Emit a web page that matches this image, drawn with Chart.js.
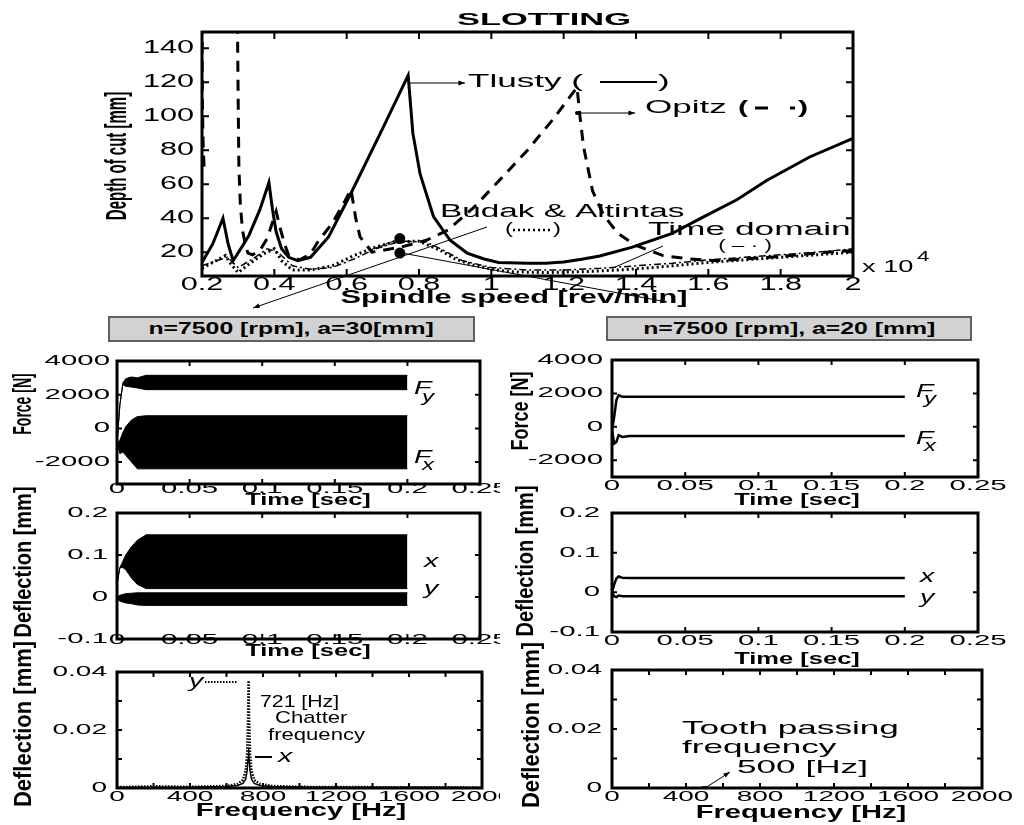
<!DOCTYPE html>
<html>
<head>
<meta charset="utf-8">
<title>Slotting stability</title>
<script src="https://cdn.jsdelivr.net/npm/chart.js@4.4.1/dist/chart.umd.min.js"></script>
<style>
  html, body { margin: 0; padding: 0; background: #fff; }
  #fig { position: relative; width: 1024px; height: 825px; overflow: hidden; background: #fff; }
  #fig canvas { position: absolute; }
  .case {
    position: absolute; box-sizing: border-box;
    background: #d2d2d2; border: 2px solid #606060;
    display: flex; align-items: center; justify-content: center;
    font: bold 16px "Liberation Sans", Arial, sans-serif; color: #000;
  }
  .case span { display: inline-block; transform: scaleX(1.55); white-space: nowrap; }
</style>
</head>
<body>
<div id="fig">
  <div class="case" style="left:108px;top:316px;width:367px;height:26px"><span>n=7500 [rpm], a=30[mm]</span></div>
  <div class="case" style="left:606px;top:316px;width:366px;height:25px"><span>n=7500 [rpm], a=20 [mm]</span></div>
</div>
<script>
// ---- stability lobes: spindle speed in 10^4 rev/min, depth of cut in mm ----
const tlustySpeed = [0.2, 0.23, 0.258, 0.272, 0.286, 0.31, 0.33, 0.36, 0.385, 0.395, 0.405, 0.42, 0.44, 0.465, 0.5, 0.55, 0.615, 0.7, 0.77, 0.783, 0.803, 0.84, 0.886, 0.933, 0.98, 1.02, 1.1, 1.15, 1.2, 1.25, 1.3, 1.39, 1.5, 1.58, 1.68, 1.76, 1.88, 2.0];
const tlustyDepth = [14, 25, 40, 25, 15, 23, 30, 45, 61, 45, 32, 22, 17, 15, 17, 29, 56, 93, 124, 90, 66, 41, 27, 19.5, 16, 14, 13.5, 13.5, 14.3, 15.8, 17.8, 23, 31, 40, 51, 62, 76, 87];

const opitzEdgeSpeed = [0.2, 0.201, 0.203, 0.206];
const opitzEdgeDepth = [155, 110, 85, 68];
const opitzSpeed = [0.298, 0.3, 0.302, 0.306, 0.312, 0.32, 0.327, 0.34, 0.36, 0.38, 0.405, 0.415, 0.428, 0.44, 0.47, 0.5, 0.52, 0.56, 0.595, 0.612, 0.625, 0.637, 0.67, 0.75, 0.82, 0.88, 0.95, 1.03, 1.1, 1.17, 1.237, 1.245, 1.255, 1.28, 1.31, 1.35, 1.4, 1.475, 1.55, 1.62, 1.7, 1.8, 1.9, 2.0];
const opitzDepth = [155, 110, 70, 48, 33, 24, 19.5, 18.5, 21, 28, 44, 35, 25, 18, 15.5, 19, 26, 37, 50, 57, 40, 29, 20, 23, 27, 33, 46, 64, 80, 98, 117, 100, 82, 56, 42, 31, 24, 18, 16, 15, 16, 17.5, 19.5, 21];

const budakSpeed = [0.2, 0.23, 0.265, 0.28, 0.3, 0.33, 0.37, 0.4, 0.42, 0.45, 0.5, 0.56, 0.62, 0.68, 0.73, 0.8, 0.86, 0.9, 0.95, 1.0, 1.05, 1.15, 1.25, 1.35, 1.45, 1.6, 1.7, 1.8, 1.9, 2.0];
const budakDepth = [10.5, 14, 18, 13, 8, 13, 19, 22, 15, 9.5, 9.5, 12, 18, 23, 26, 26.5, 21, 16, 12.5, 10, 8.5, 8, 8.5, 9.5, 11, 14, 15.5, 17, 18.5, 20];

const timeDomSpeed = [0.2, 0.24, 0.27, 0.3, 0.34, 0.38, 0.41, 0.45, 0.5, 0.56, 0.62, 0.68, 0.75, 0.82, 0.86, 0.92, 1.0, 1.1, 1.2, 1.3, 1.4, 1.5, 1.6, 1.7, 1.8, 1.9, 2.0];
const timeDomDepth = [12, 15, 17, 11, 16, 22, 20, 12, 10, 11, 16, 22, 26.5, 26, 22, 15, 11, 9.5, 9.5, 10.5, 12, 13.5, 15.5, 17, 18.5, 20, 22];

const markerSpeed = [0.747, 0.747];
const markerDepth = [28, 19.5];

// ---- time histories (sec); chatter case drawn as oscillation envelopes ----
const chatterTime = [0, 0.002, 0.004, 0.006, 0.01, 0.014, 0.02, 0.2];
const fyChatterHigh = [-900, 1400, 2700, 2950, 3050, 3000, 3150, 3150];
const fyChatterLow = [-900, 1400, 2600, 2500, 2450, 2400, 2300, 2300];
const fxChatterHigh = [-900, -700, -250, 100, 500, 700, 750, 750];
const fxChatterLow = [-900, -1500, -1400, -1600, -2000, -2400, -2400, -2400];
const xDefHigh = [0.03, 0.07, 0.085, 0.1, 0.12, 0.135, 0.148, 0.148];
const xDefLow = [0.03, 0.07, 0.07, 0.065, 0.045, 0.03, 0.02, 0.02];
const yDefHigh = [0.0, 0.004, 0.006, 0.008, 0.009, 0.01, 0.01, 0.01];
const yDefLow = [-0.004, -0.01, -0.012, -0.014, -0.016, -0.019, -0.02, -0.02];

const stableTime = [0, 0.0015, 0.003, 0.0045, 0.007, 0.012, 0.2];
const fyStable = [-200, 600, 1600, 1900, 1800, 1800, 1800];
const fxStable = [-200, -1000, -900, -500, -600, -550, -550];
const xDefStable = [0, 0.02, 0.035, 0.04, 0.037, 0.036, 0.036];
const yDefStable = [0, -0.01, -0.012, -0.008, -0.01, -0.01, -0.01];

// ---- deflection spectra (Hz, mm) ----
const freqHz = [0, 200, 400, 600, 660, 690, 705, 713, 718, 721, 724, 729, 737, 752, 782, 850, 1000, 1400, 2000];
const ySpectrum = [0.0003, 0.0006, 0.0004, 0.0007, 0.0014, 0.0028, 0.006, 0.012, 0.024, 0.037, 0.024, 0.012, 0.006, 0.0028, 0.0014, 0.0007, 0.0004, 0.0003, 0.0002];
const xSpectrum = [0.0002, 0.0003, 0.0003, 0.0005, 0.0009, 0.0016, 0.003, 0.006, 0.010, 0.014, 0.010, 0.006, 0.003, 0.0016, 0.0009, 0.0005, 0.0003, 0.0002, 0.0001];
const stableFreqHz = [0, 480, 500, 520, 2000];
const stableSpectrum = [0.0001, 0.0002, 0.0004, 0.0002, 0.0001];

// ---- axis ticks ----
const speedTicks = [0.2, 0.4, 0.6, 0.8, 1, 1.2, 1.4, 1.6, 1.8, 2];
const depthTicks = [20, 40, 60, 80, 100, 120, 140];
const timeTicks = [0, 0.05, 0.1, 0.15, 0.2, 0.25];
const forceTicks = [-2000, 0, 2000, 4000];
const deflTicks = [-0.1, 0, 0.1, 0.2];
const freqTicks = [0, 400, 800, 1200, 1600, 2000];
const freqMinor = [200, 600, 1000, 1400, 1800];
const specTicks = [0, 0.02, 0.04];
const specMinor = [0.01, 0.03];

const FONT = '"Liberation Sans", Arial, sans-serif';
const fig = document.getElementById('fig');

function drawText(ctx, s, x, y, o) {
  ctx.save();
  ctx.font = (o.italic ? 'italic ' : '') + (o.bold ? 'bold ' : '') + o.size + 'px ' + FONT;
  ctx.fillStyle = '#000';
  ctx.textAlign = o.align || 'center';
  ctx.textBaseline = 'middle';
  ctx.translate(x, y);
  if (o.vertical) { ctx.rotate(-Math.PI / 2); ctx.scale(1, o.sx || 1); }
  else ctx.scale(o.sx || 1, 1);
  ctx.fillText(s, 0, 0);
  ctx.restore();
}

function drawStroke(ctx, st, ox, oy) {
  const p = st.pts.map(([x, y]) => [x - ox, y - oy]);
  ctx.save();
  ctx.strokeStyle = '#000';
  ctx.fillStyle = '#000';
  ctx.lineWidth = st.width || 1;
  ctx.setLineDash(st.dash || []);
  ctx.beginPath();
  ctx.moveTo(p[0][0], p[0][1]);
  for (let i = 1; i < p.length; i++) ctx.lineTo(p[i][0], p[i][1]);
  ctx.stroke();
  ctx.setLineDash([]);
  if (st.dot) {
    ctx.beginPath();
    ctx.arc(p[0][0], p[0][1], 2, 0, Math.PI * 2);
    ctx.fill();
  }
  if (st.arrow) {
    const [x0, y0] = p[p.length - 2], [x1, y1] = p[p.length - 1];
    const ang = Math.atan2(y1 - y0, x1 - x0), s = 7;
    ctx.beginPath();
    ctx.moveTo(x1, y1);
    ctx.lineTo(x1 - s * Math.cos(ang - 0.35), y1 - s * Math.sin(ang - 0.35));
    ctx.lineTo(x1 - s * Math.cos(ang + 0.35), y1 - s * Math.sin(ang + 0.35));
    ctx.closePath();
    ctx.fill();
  }
  ctx.restore();
}

// Boxed axes with inward ticks on all four sides, labels and notes
function framePlugin(p) {
  return {
    id: 'frame',
    afterDatasetsDraw(chart) {
      const { ctx, chartArea: a, scales: { x, y } } = chart;
      const [ox, oy] = p.canvas;
      const tl = p.tickLen;
      ctx.save();
      ctx.strokeStyle = '#000';
      ctx.lineWidth = 2;
      ctx.beginPath();
      p.xTicks.concat(p.xMinor || []).forEach(v => {
        const px = x.getPixelForValue(v);
        ctx.moveTo(px, a.bottom); ctx.lineTo(px, a.bottom - tl);
        ctx.moveTo(px, a.top); ctx.lineTo(px, a.top + tl);
      });
      p.yTicks.concat(p.yMinor || []).forEach(v => {
        const py = y.getPixelForValue(v);
        ctx.moveTo(a.left, py); ctx.lineTo(a.left + tl, py);
        ctx.moveTo(a.right, py); ctx.lineTo(a.right - tl, py);
      });
      ctx.stroke();
      ctx.lineWidth = p.frameWidth;
      ctx.strokeRect(a.left, a.top, a.right - a.left, a.bottom - a.top);
      ctx.restore();

      const tf = { size: p.tickSize, sx: p.tickSx };
      p.xTicks.forEach(v => drawText(ctx, String(v), x.getPixelForValue(v), p.xLabelY - oy, tf));
      p.yTicks.forEach(v => drawText(ctx, String(v), p.yLabelRight - ox, y.getPixelForValue(v), Object.assign({ align: 'right' }, tf)));
      (p.texts || []).forEach(t => drawText(ctx, t.text, t.x - ox, t.y - oy, t));
      (p.strokes || []).forEach(s => drawStroke(ctx, s, ox, oy));
    }
  };
}

const pts = (xs, ys) => xs.map((v, i) => ({ x: v, y: ys[i] }));
const series = (xs, ys, extra) => Object.assign({
  data: pts(xs, ys), borderColor: '#000', backgroundColor: '#000',
  borderWidth: 2, pointRadius: 0, fill: false
}, extra);
const band = (xs, hi, lo) => [
  series(xs, hi, { borderWidth: 1 }),
  series(xs, lo, { borderWidth: 1, fill: '-1' })
];

function panel(p, datasets) {
  const [cx, cy, cw, ch] = p.canvas;
  const [l, t, r, b] = p.area;
  const canvas = document.createElement('canvas');
  canvas.width = cw;
  canvas.height = ch;
  canvas.style.left = cx + 'px';
  canvas.style.top = cy + 'px';
  fig.appendChild(canvas);
  new Chart(canvas, {
    type: 'line',
    data: { datasets },
    options: {
      responsive: false,
      animation: false,
      devicePixelRatio: 1,
      layout: { padding: { left: l - cx, top: t - cy, right: cx + cw - r, bottom: cy + ch - b } },
      plugins: { legend: { display: false }, tooltip: { enabled: false } },
      elements: { line: { tension: 0 } },
      scales: {
        x: { type: 'linear', display: false, min: p.xRange[0], max: p.xRange[1] },
        y: { type: 'linear', display: false, min: p.yRange[0], max: p.yRange[1] }
      }
    },
    plugins: [framePlugin(p)]
  });
}

const note = (text, x, y, size, sx, more) => Object.assign({ text, x, y, size, sx }, more);
const left = { align: 'left' };
const ital = { align: 'left', italic: true };

// Stability lobe diagram
panel({
  canvas: [0, 0, 1024, 315], area: [202, 32, 853, 276],
  xRange: [0.2, 2], yRange: [6, 149.5],
  xTicks: speedTicks, yTicks: depthTicks,
  tickLen: 7, frameWidth: 3, tickSize: 18, tickSx: 1.7,
  xLabelY: 285, yLabelRight: 194,
  texts: [
    note('SLOTTING', 544, 21, 16, 2.15, { bold: true }),
    note('Spindle speed [rev/min]', 514, 298, 18, 1.71, { bold: true }),
    note('Depth of cut [mm]', 118, 156, 15, 2.0, { bold: true, vertical: true }),
    note('Tlusty (', 468, 82, 18, 1.95, left),
    note(')', 658, 82, 18, 1.95, left),
    note('Opitz', 645, 108, 18, 1.95, left),
    note('(', 738, 108, 19, 1.6, { align: 'left', bold: true }),
    note(')', 798, 108, 19, 1.6, { align: 'left', bold: true }),
    note('Budak & Altintas', 440, 212, 18, 1.85, left),
    note('(', 505, 230, 16, 1.5, left),
    note(')', 553, 230, 16, 1.5, left),
    note('Time domain', 648, 230, 18, 1.96, left),
    note('( \u2013 \u00b7 )', 745, 246, 15, 1.5),
    note('x 10', 862, 268, 16, 1.7, left),
    note('4', 917, 257, 14, 1.6, left)
  ],
  strokes: [
    { pts: [[600, 82], [657, 82]], width: 2 },
    { pts: [[755, 108], [768, 108]], width: 3 },
    { pts: [[790, 108], [795, 108]], width: 3 },
    { pts: [[513, 230], [551, 230]], width: 2.5, dash: [2, 3] },
    { pts: [[408, 83], [465, 83]], width: 1, arrow: true },
    { pts: [[577, 113], [635, 113]], width: 1, arrow: true, dot: true },
    { pts: [[487, 227], [253, 308]], width: 1, arrow: true },
    { pts: [[402, 253], [667, 302]], width: 1, arrow: true },
    { pts: [[663, 246], [613, 268]], width: 1 },
    { pts: [[402, 238], [370, 250]], width: 1 }
  ]
}, [
  series(timeDomSpeed, timeDomDepth, { borderWidth: 1.5, borderDash: [7, 3, 2, 3] }),
  series(budakSpeed, budakDepth, { borderWidth: 3, borderDash: [2, 3] }),
  series(opitzEdgeSpeed, opitzEdgeDepth, { borderWidth: 3, borderDash: [11, 8] }),
  series(opitzSpeed, opitzDepth, { borderWidth: 3, borderDash: [11, 8] }),
  series(tlustySpeed, tlustyDepth, { borderWidth: 3 }),
  series(markerSpeed, markerDepth, { showLine: false, pointRadius: 4.5, pointBackgroundColor: '#000' })
]);

// Cutting forces
panel({
  canvas: [0, 340, 500, 180], area: [117, 361, 480, 484],
  xRange: [0, 0.25], yRange: [-3300, 4000],
  xTicks: timeTicks, yTicks: forceTicks,
  tickLen: 5, frameWidth: 3, tickSize: 14, tickSx: 2.1,
  xLabelY: 489, yLabelRight: 110,
  texts: [
    note('Time [sec]', 308, 500, 17, 1.5, { bold: true }),
    note('Force [N]', 24, 404, 14, 1.9, { bold: true, vertical: true }),
    note('F', 414, 389, 19, 1.5, ital), note('y', 422, 398, 16, 1.5, ital),
    note('F', 414, 458, 19, 1.5, ital), note('x', 422, 466, 16, 1.5, ital)
  ]
}, [
  ...band(chatterTime, fyChatterHigh, fyChatterLow),
  ...band(chatterTime, fxChatterHigh, fxChatterLow)
]);

panel({
  canvas: [500, 340, 524, 180], area: [612, 360, 978, 477],
  xRange: [0, 0.25], yRange: [-3000, 4000],
  xTicks: timeTicks, yTicks: forceTicks,
  tickLen: 5, frameWidth: 3, tickSize: 14, tickSx: 2.1,
  xLabelY: 486, yLabelRight: 603,
  texts: [
    note('Time [sec]', 797, 500, 17, 1.5, { bold: true }),
    note('Force [N]', 522, 411, 18, 1.3, { bold: true, vertical: true }),
    note('F', 916, 392, 19, 1.5, ital), note('y', 924, 400, 16, 1.5, ital),
    note('F', 916, 439, 19, 1.5, ital), note('x', 924, 447, 16, 1.5, ital)
  ]
}, [
  series(stableTime, fyStable, { borderWidth: 2.5 }),
  series(stableTime, fxStable, { borderWidth: 2.5 })
]);

// Tool deflections
panel({
  canvas: [0, 480, 500, 200], area: [117, 513, 480, 639],
  xRange: [0, 0.25], yRange: [-0.1, 0.2],
  xTicks: timeTicks, yTicks: deflTicks,
  tickLen: 5, frameWidth: 3, tickSize: 14, tickSx: 2.1,
  xLabelY: 640, yLabelRight: 108,
  texts: [
    note('Time [sec]', 308, 651, 17, 1.5, { bold: true }),
    note('Deflection [mm]', 24, 562, 20, 1.2, { bold: true, vertical: true }),
    note('x', 424, 562, 19, 1.5, ital),
    note('y', 424, 589, 19, 1.5, ital)
  ]
}, [
  ...band(chatterTime, xDefHigh, xDefLow),
  ...band(chatterTime, yDefHigh, yDefLow)
]);

panel({
  canvas: [500, 480, 524, 200], area: [612, 513, 978, 632],
  xRange: [0, 0.25], yRange: [-0.1, 0.2],
  xTicks: timeTicks, yTicks: deflTicks,
  tickLen: 5, frameWidth: 3, tickSize: 14, tickSx: 2.1,
  xLabelY: 641, yLabelRight: 600,
  texts: [
    note('Time [sec]', 797, 659, 17, 1.5, { bold: true }),
    note('Deflection [mm]', 526, 561, 20, 1.2, { bold: true, vertical: true }),
    note('x', 920, 577, 19, 1.5, ital),
    note('y', 920, 598, 19, 1.5, ital)
  ]
}, [
  series(stableTime, xDefStable, { borderWidth: 2.5 }),
  series(stableTime, yDefStable, { borderWidth: 2.5 })
]);

// Deflection spectra
panel({
  canvas: [0, 630, 500, 195], area: [117, 672, 482, 788],
  xRange: [0, 2000], yRange: [0, 0.04],
  xTicks: freqTicks, xMinor: freqMinor, yTicks: specTicks, yMinor: specMinor,
  tickLen: 5, frameWidth: 3, tickSize: 14, tickSx: 2.0,
  xLabelY: 797, yLabelRight: 107,
  texts: [
    note('Frequency [Hz]', 301, 811, 18, 1.62, { bold: true }),
    note('Deflection [mm]', 24, 724, 22, 1.1, { bold: true, vertical: true }),
    note('y', 189, 682, 19, 1.5, ital),
    note('721 [Hz]', 260, 702, 17, 1.25, left),
    note('Chatter', 275, 718, 17, 1.3, left),
    note('frequency', 268, 735, 17, 1.3, left),
    note('x', 278, 757, 19, 1.5, ital)
  ],
  strokes: [
    { pts: [[205, 682], [237, 682]], width: 2, dash: [1.5, 1.5] },
    { pts: [[255, 757], [272, 757]], width: 2 }
  ]
}, [
  series(freqHz, xSpectrum, { borderWidth: 1.5 }),
  series(freqHz, ySpectrum, { borderWidth: 2.5, borderDash: [1.5, 1.5] })
]);

panel({
  canvas: [500, 630, 524, 195], area: [612, 670, 982, 788],
  xRange: [0, 2000], yRange: [0, 0.04],
  xTicks: freqTicks, xMinor: freqMinor, yTicks: specTicks, yMinor: specMinor,
  tickLen: 5, frameWidth: 3, tickSize: 14, tickSx: 2.0,
  xLabelY: 797, yLabelRight: 602,
  texts: [
    note('Frequency [Hz]', 801, 813, 18, 1.62, { bold: true }),
    note('Deflection [mm]', 532, 725, 22, 1.1, { bold: true, vertical: true }),
    note('Tooth passing', 682, 729, 19, 1.85, left),
    note('frequency', 682, 748, 19, 1.85, left),
    note('500 [Hz]', 737, 768, 19, 1.85, left)
  ],
  strokes: [
    { pts: [[705, 788], [730, 772]], width: 1, arrow: true }
  ]
}, [
  series(stableFreqHz, stableSpectrum, { borderWidth: 1.5 })
]);
</script>
</body>
</html>
